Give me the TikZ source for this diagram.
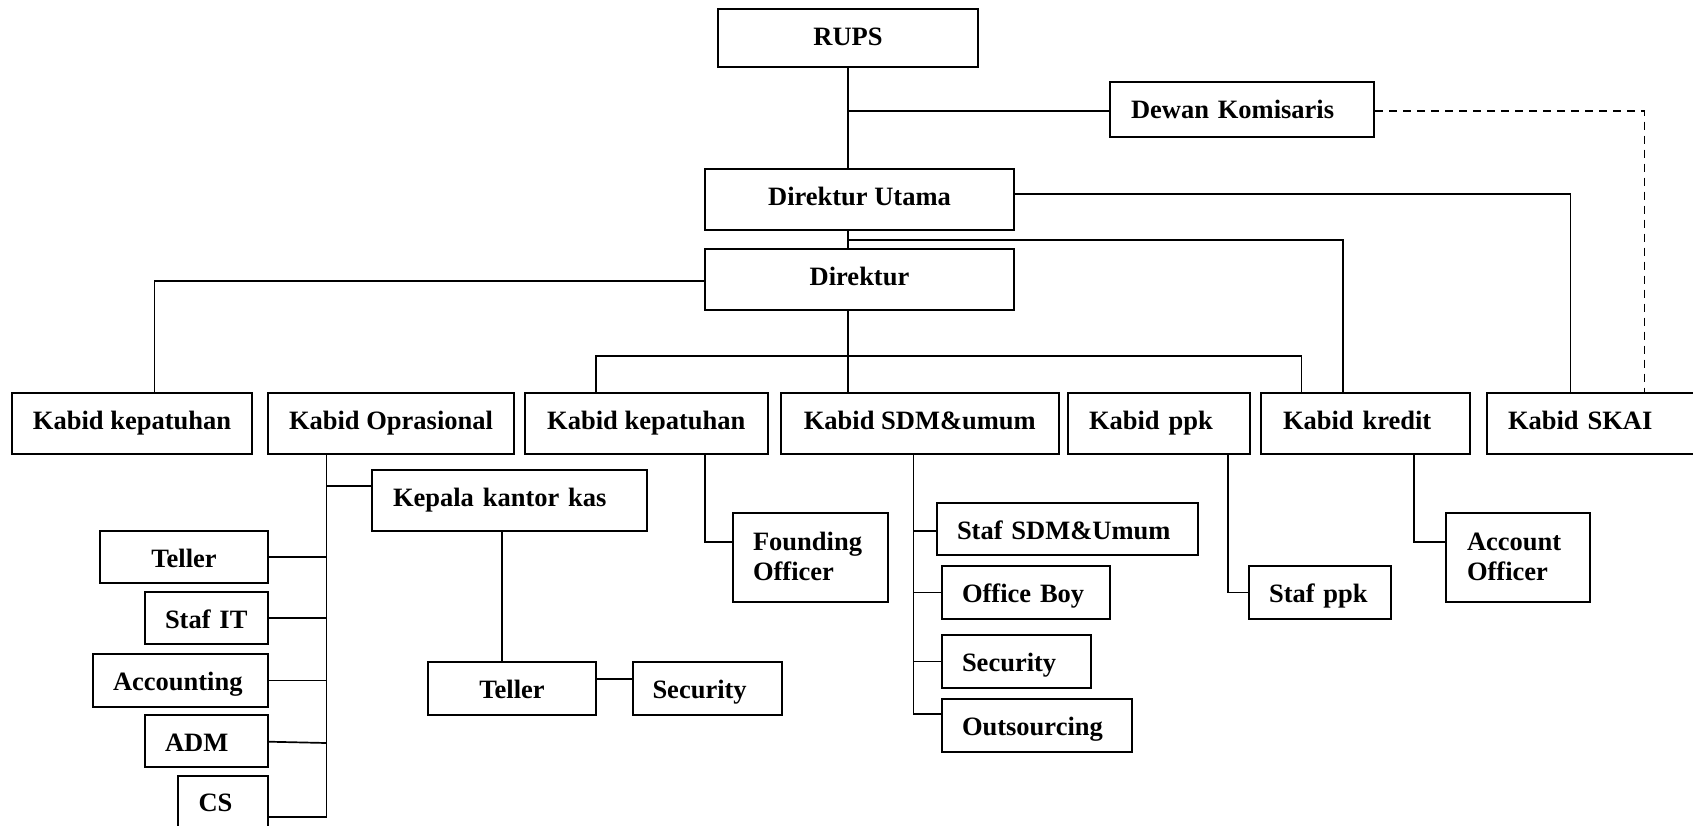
\documentclass[tikz,border=0pt]{standalone}
\usepackage{fontspec}
\setmainfont{Liberation Serif}
\newcommand\twoline[3]{\begin{tabular}[t]{@{}p{#1}@{}}#2\\#3\end{tabular}}
\begin{document}
\begin{tikzpicture}[x=1pt,y=-1pt,
  box/.style={draw, line width=2pt, inner sep=0pt, text height=36.3pt, font=\fontsize{26.5}{30}\selectfont\bfseries},
  cbox/.style={box},
  lbox/.style={box, inner xsep=#1, align=left},
  lbox/.default=20pt,
  conn/.style={line width=1.7pt},
  dconn/.style={line width=1.7pt, dash pattern=on 8pt off 6pt}]
\useasboundingbox (0,0) rectangle (1693,825);
\fill[white] (0,0) rectangle (1693,825);

% top management
\node[cbox, minimum width=260, minimum height=58, text depth=21.7pt] (rups) at (848,38) {RUPS};
\node[lbox=21pt, text width=222, minimum width=264, minimum height=55, text depth=18.7pt] (dk) at (1242,109.5) {Dewan Komisaris};
\node[cbox, minimum width=309, minimum height=61, text depth=24.7pt] (du) at (859.5,199.5) {Direktur Utama};
\node[cbox, minimum width=309, minimum height=61, text depth=24.7pt] (dir) at (859.5,279.5) {Direktur};

% kabid row
\node[cbox, minimum width=240, minimum height=61, text depth=24.7pt] (kp1) at (132,423.5) {Kabid kepatuhan};
\node[cbox, minimum width=246, minimum height=61, text depth=24.7pt] (kop) at (391,423.5) {Kabid Oprasional};
\node[cbox, minimum width=242.5, minimum height=61, text depth=24.7pt] (kp2) at (646.25,423.5) {Kabid kepatuhan};
\node[cbox, minimum width=277.6, minimum height=61, text depth=24.7pt] (ksdm) at (919.8,423.5) {Kabid SDM\&umum};
\node[lbox=21pt, text width=139.5, minimum width=181.5, minimum height=61, text depth=24.7pt] (kppk) at (1158.75,423.5) {Kabid ppk};
\node[lbox=22pt, text width=165, minimum width=209, minimum height=61, text depth=24.7pt] (kkr) at (1365.5,423.5) {Kabid kredit};
\node[lbox=21pt, text width=200, minimum width=242, minimum height=61, text depth=24.7pt] (kskai) at (1608,423.5) {Kabid SKAI};

% under Oprasional
\node[lbox=21pt, text width=233, minimum width=275, minimum height=61, text depth=24.7pt] (kkk) at (509.5,500.5) {Kepala kantor kas};
\node[cbox, minimum width=168, minimum height=52, text depth=15.7pt] (tel1) at (184,557) {Teller};
\node[lbox, text width=83, minimum width=123, minimum height=52, text depth=15.7pt] (stit) at (206.5,618) {Staf IT};
\node[lbox, text width=135, minimum width=175, minimum height=53, text depth=16.7pt] (acc) at (180.5,680.5) {Accounting};
\node[lbox, text width=83, minimum width=123, minimum height=52, text depth=15.7pt] (adm) at (206.5,741) {ADM};
\node[lbox, text width=49, minimum width=90, minimum height=52, text depth=15.7pt] (cs) at (223,801.5) {CS};
\node[cbox, minimum width=168, minimum height=53, text depth=16.7pt] (tel2) at (512,688.5) {Teller};
\node[lbox, text width=109, minimum width=149, minimum height=53, text depth=16.7pt] (sec2) at (707,688.5) {Security};

% under kepatuhan 2
\node[box, inner xsep=20pt, minimum width=155, minimum height=89, text height=37pt, text depth=52pt] (fo) at (810.5,557.5) {\twoline{115pt}{Founding}{Officer}};

% under SDM
\node[lbox, text width=221, minimum width=261, minimum height=52, text depth=15.7pt] (ssdm) at (1067.5,529) {Staf SDM\&Umum};
\node[lbox, text width=128, minimum width=168, minimum height=53, text depth=16.7pt] (ob) at (1026,592.5) {Office Boy};
\node[lbox, text width=109, minimum width=149, minimum height=53, text depth=16.7pt] (sec) at (1016.5,661.5) {Security};
\node[lbox, text width=150, minimum width=190, minimum height=53, text depth=16.7pt] (out) at (1037,725.5) {Outsourcing};

% under ppk and kredit
\node[lbox, text width=102, minimum width=142, minimum height=53, text depth=16.7pt] (sppk) at (1320,592.5) {Staf ppk};
\node[box, inner xsep=21pt, minimum width=144, minimum height=89, text height=37pt, text depth=52pt] (ao) at (1518,557.5) {\twoline{102pt}{Account}{Officer}};

% junction coordinates
\coordinate (jsk) at (1570.5,194);
\coordinate (jkr1) at (1343,240);
\coordinate (jkp1) at (154.5,281);
\coordinate (jrowL) at (596,356);
\coordinate (jrowR) at (1301.6,356);
\coordinate (jdash) at (1644.5,111);
\coordinate (jop) at (326.5,486);
\coordinate (jkkk) at (502,0);
\coordinate (jts) at (0,679);
\coordinate (jfo) at (705,542);
\coordinate (jsdm) at (913.4,0);
\coordinate (jppk) at (1228,592.5);
\coordinate (jao) at (1414,542);
\coordinate (jcs) at (0,817);

% trunk
\draw[conn] (rups.south) -- (rups.south |- du.north);
\draw[conn] (du.south -| rups) -- (dir.north -| rups);
\draw[conn] (dir.south -| rups) -- (ksdm.north -| rups);
\draw[conn] (dk.west |- jdash) -- (jdash -| rups);
\draw[dconn] (dk.east |- jdash) -| (kskai.north -| jdash);
\draw[conn] (du.east |- jsk) -| (kskai.north -| jsk);
\draw[conn] (jkr1 -| rups) -| (kkr.north -| jkr1);
\draw[conn] (dir.west |- jkp1) -| (kp1.north -| jkp1);
\draw[conn] (kp2.north -| jrowL) |- (jrowR) -- (kkr.north -| jrowR);

% Oprasional branch
\draw[conn] (kop.south -| jop) -- (jop |- jcs);
\draw[conn] (jop) -- (kkk.west |- jop);
\draw[conn] (tel1.east) -- (tel1.east -| jop);
\draw[conn] (stit.east) -- (stit.east -| jop);
\draw[conn] (acc.east) -- (acc.east -| jop);
\draw[conn] ([yshift=-0.7pt]adm.east) -- ([yshift=-2pt]adm.east -| jop);
\draw[conn] (cs.east |- jcs) -- (jop |- jcs);
\draw[conn] (kkk.south -| jkkk) -- (tel2.north -| jkkk);
\draw[conn] (tel2.east |- jts) -- (sec2.west |- jts);

% kepatuhan 2 branch
\draw[conn] (kp2.south -| jfo) |- (fo.west |- jfo);

% SDM branch
\draw[conn] (ksdm.south -| jsdm) -- (jsdm |- 0,714);
\draw[conn] (ssdm.west |- 0,531) -- (jsdm |- 0,531);
\draw[conn] (ob.west) -- (ob.west -| jsdm);
\draw[conn] (sec.west) -- (sec.west -| jsdm);
\draw[conn] (out.west |- 0,714) -- (jsdm |- 0,714);

% ppk and kredit branches
\draw[conn] (kppk.south -| jppk) |- (sppk.west);
\draw[conn] (kkr.south -| jao) |- (ao.west |- jao);
\end{tikzpicture}
\end{document}
